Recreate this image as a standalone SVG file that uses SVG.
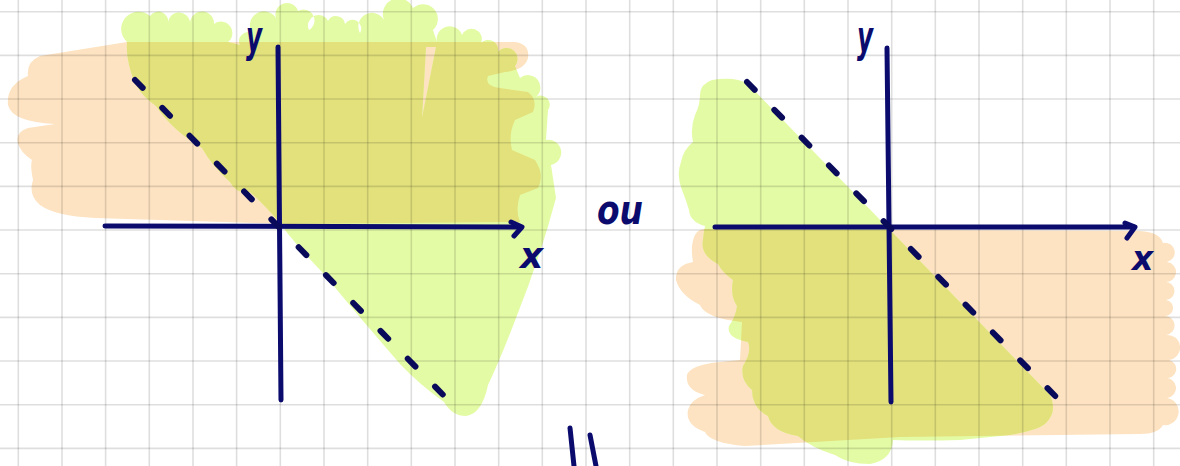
<svg xmlns="http://www.w3.org/2000/svg" width="1180" height="466" viewBox="0 0 1180 466">
<style>
.or{fill:#fde3c1}
.gr{fill:#e4fba5}
.ov{fill:#e2e17c}
.grid{stroke:#000;stroke-opacity:0.13;stroke-width:1.6;fill:none}
.ax{stroke:#0b0b6e;stroke-width:5;stroke-linecap:round;stroke-linejoin:round;fill:none}
.dash{stroke:#0a0a5a;stroke-width:6;stroke-linecap:round;stroke-dasharray:11 28;fill:none}
.lbl{font-family:"DejaVu Sans",sans-serif;font-weight:bold;font-style:italic;fill:#0b0b6e}
</style>
<defs>
<path id="o1" d="M 127 42 L 515 42 Q 530 44 528 58 Q 525 70 505 72 L 488 76 Q 484 86 500 88 L 528 92 Q 538 100 533 112 L 515 120 Q 508 135 512 150 L 535 160 Q 545 175 538 188 L 520 195 Q 515 210 520 222 L 290 224 L 95 218 Q 55 216 40 205 Q 28 195 33 180 Q 30 165 32 160 Q 20 152 18 143 Q 15 132 28 128 L 55 124 Q 12 122 8 105 Q 6 85 28 76 Q 26 62 40 56 Z"/>
<path id="g1" fill-rule="evenodd" d="M 127 42 A 14 14 0 0 1 150 16 A 10 10 0 0 1 168 24 A 11 11 0 0 1 190 23 A 12 12 0 0 1 214 24 A 9 9 0 0 1 228 42 L 240 45 A 9 9 0 0 1 252 33 A 12 12 0 0 1 276 18 A 10 10 0 0 1 298 11 A 8 8 0 0 1 309 30 A 10 10 0 0 1 328 21 A 9 9 0 0 1 345 24 A 8 8 0 0 1 360 33 A 12 12 0 0 1 384 20 A 14 14 0 0 1 413 8 A 12 12 0 0 1 433 30 L 437 42 A 13 13 0 0 1 462 35 A 10 10 0 0 1 481 43 A 10 10 0 0 1 498 52 A 10 10 0 0 1 515 66 L 520 78 A 11 11 0 0 1 536 97 A 9 9 0 0 1 548 110 L 546 140 A 8 8 0 0 1 551 165 L 556 198 Q 540 258 516 318 Q 500 360 488 385 Q 482 414 466 416 Q 452 416 444 402 Q 420 385 400 364 Q 360 318 322 272 Q 296 245 282 226 Q 266 206 250 192 Q 236 194 230 182 Q 212 166 202 148 Q 172 130 156 106 Q 136 92 131 72 Q 126 56 127 42 Z M 422 118 L 426 47 L 436 47 Z"/>
<path id="o2" d="M 705 229 L 1140 231 Q 1160 232 1163 243 A 8 8 0 0 1 1167 262 A 9 9 0 0 1 1165 282 A 9 9 0 0 1 1166 300 A 8 8 0 0 1 1164 316 A 9 9 0 0 1 1166 335 A 9 9 0 0 1 1169 360 A 8 8 0 0 1 1165 378 A 9 9 0 0 1 1167 398 A 10 10 0 0 1 1163 425 Q 1158 434 1140 434 L 900 437 L 745 446 Q 710 443 705 432 Q 685 425 688 410 Q 690 400 705 395 Q 685 390 687 375 Q 690 365 720 362 L 740 360 L 742 322 Q 705 318 700 305 Q 680 295 676 280 Q 675 265 693 262 Q 690 245 695 235 Q 698 229 705 229 Z"/>
<path id="g2" d="M 712 80 Q 735 76 748 84 L 888 228 L 1050 395 Q 1058 412 1045 424 Q 1035 432 1000 436 L 960 440 Q 920 441 893 440 Q 892 460 870 464 Q 848 464 835 455 Q 812 448 798 436 Q 772 432 768 416 Q 752 408 752 390 Q 740 380 743 366 Q 752 352 748 342 Q 726 338 729 326 Q 736 316 737 306 Q 730 296 733 280 Q 722 272 718 264 Q 700 255 703 240 Q 704 230 705 226 Q 690 222 689 210 Q 686 200 682 190 Q 676 175 681 162 Q 683 150 693 142 Q 690 128 695 115 Q 700 105 700 95 Q 700 84 712 80 Z"/>
<clipPath id="c1"><use href="#o1"/></clipPath>
<clipPath id="c2"><use href="#o2"/></clipPath>
</defs>
<rect width="1180" height="466" fill="#ffffff"/>
<g id="left-regions">
<use href="#o1" class="or"/>
<use href="#g1" class="gr"/>
<use href="#g1" class="ov" clip-path="url(#c1)"/>
</g>
<g id="right-regions">
<use href="#o2" class="or"/>
<use href="#g2" class="gr"/>
<use href="#g2" class="ov" clip-path="url(#c2)"/>
</g>
<g id="grid" class="grid">
<path d="M18.3 0V466M62 0V466M105.6 0V466M149.3 0V466M193 0V466M236.6 0V466M280.3 0V466M324 0V466M367.7 0V466M411.3 0V466M455 0V466M498.7 0V466M542.3 0V466M586 0V466M629.7 0V466M673.3 0V466M717 0V466M760.7 0V466M804.3 0V466M848 0V466M891.7 0V466M935.3 0V466M979 0V466M1022.7 0V466M1066.3 0V466M1110 0V466M1153.7 0V466"/>
<path d="M0 11.7H1180M0 55.4H1180M0 99H1180M0 142.7H1180M0 186.4H1180M0 230H1180M0 273.7H1180M0 317.4H1180M0 361H1180M0 404.7H1180M0 448.4H1180"/>
</g>
<g id="left-axes">
<path class="ax" d="M105 226 L521 227"/>
<polyline class="ax" points="511,222 522,227 514,236"/>
<path class="ax" d="M278 47 L281 400"/>
<path class="dash" d="M135 80 L455 407"/>
</g>
<g id="right-axes">
<path class="ax" d="M715 227 L1134 227"/>
<polyline class="ax" points="1125,223 1135,227 1127,238"/>
<path class="ax" d="M887 48 L891 402"/>
<path class="dash" d="M747 82 L1065 406"/>
</g>
<g id="labels">
<text class="lbl" x="246" y="52" font-size="44" textLength="16" lengthAdjust="spacingAndGlyphs">y</text>
<text class="lbl" x="520" y="268" font-size="36">x</text>
<text class="lbl" x="597" y="224" font-size="40" textLength="46" lengthAdjust="spacingAndGlyphs">ou</text>
<text class="lbl" x="857" y="52" font-size="44" textLength="16" lengthAdjust="spacingAndGlyphs">y</text>
<text class="lbl" x="1132" y="270" font-size="33">x</text>
</g>
<g id="marks" class="ax">
<path d="M570 428 L574 466"/>
<path d="M590 435 L596 466"/>
</g>
</svg>
